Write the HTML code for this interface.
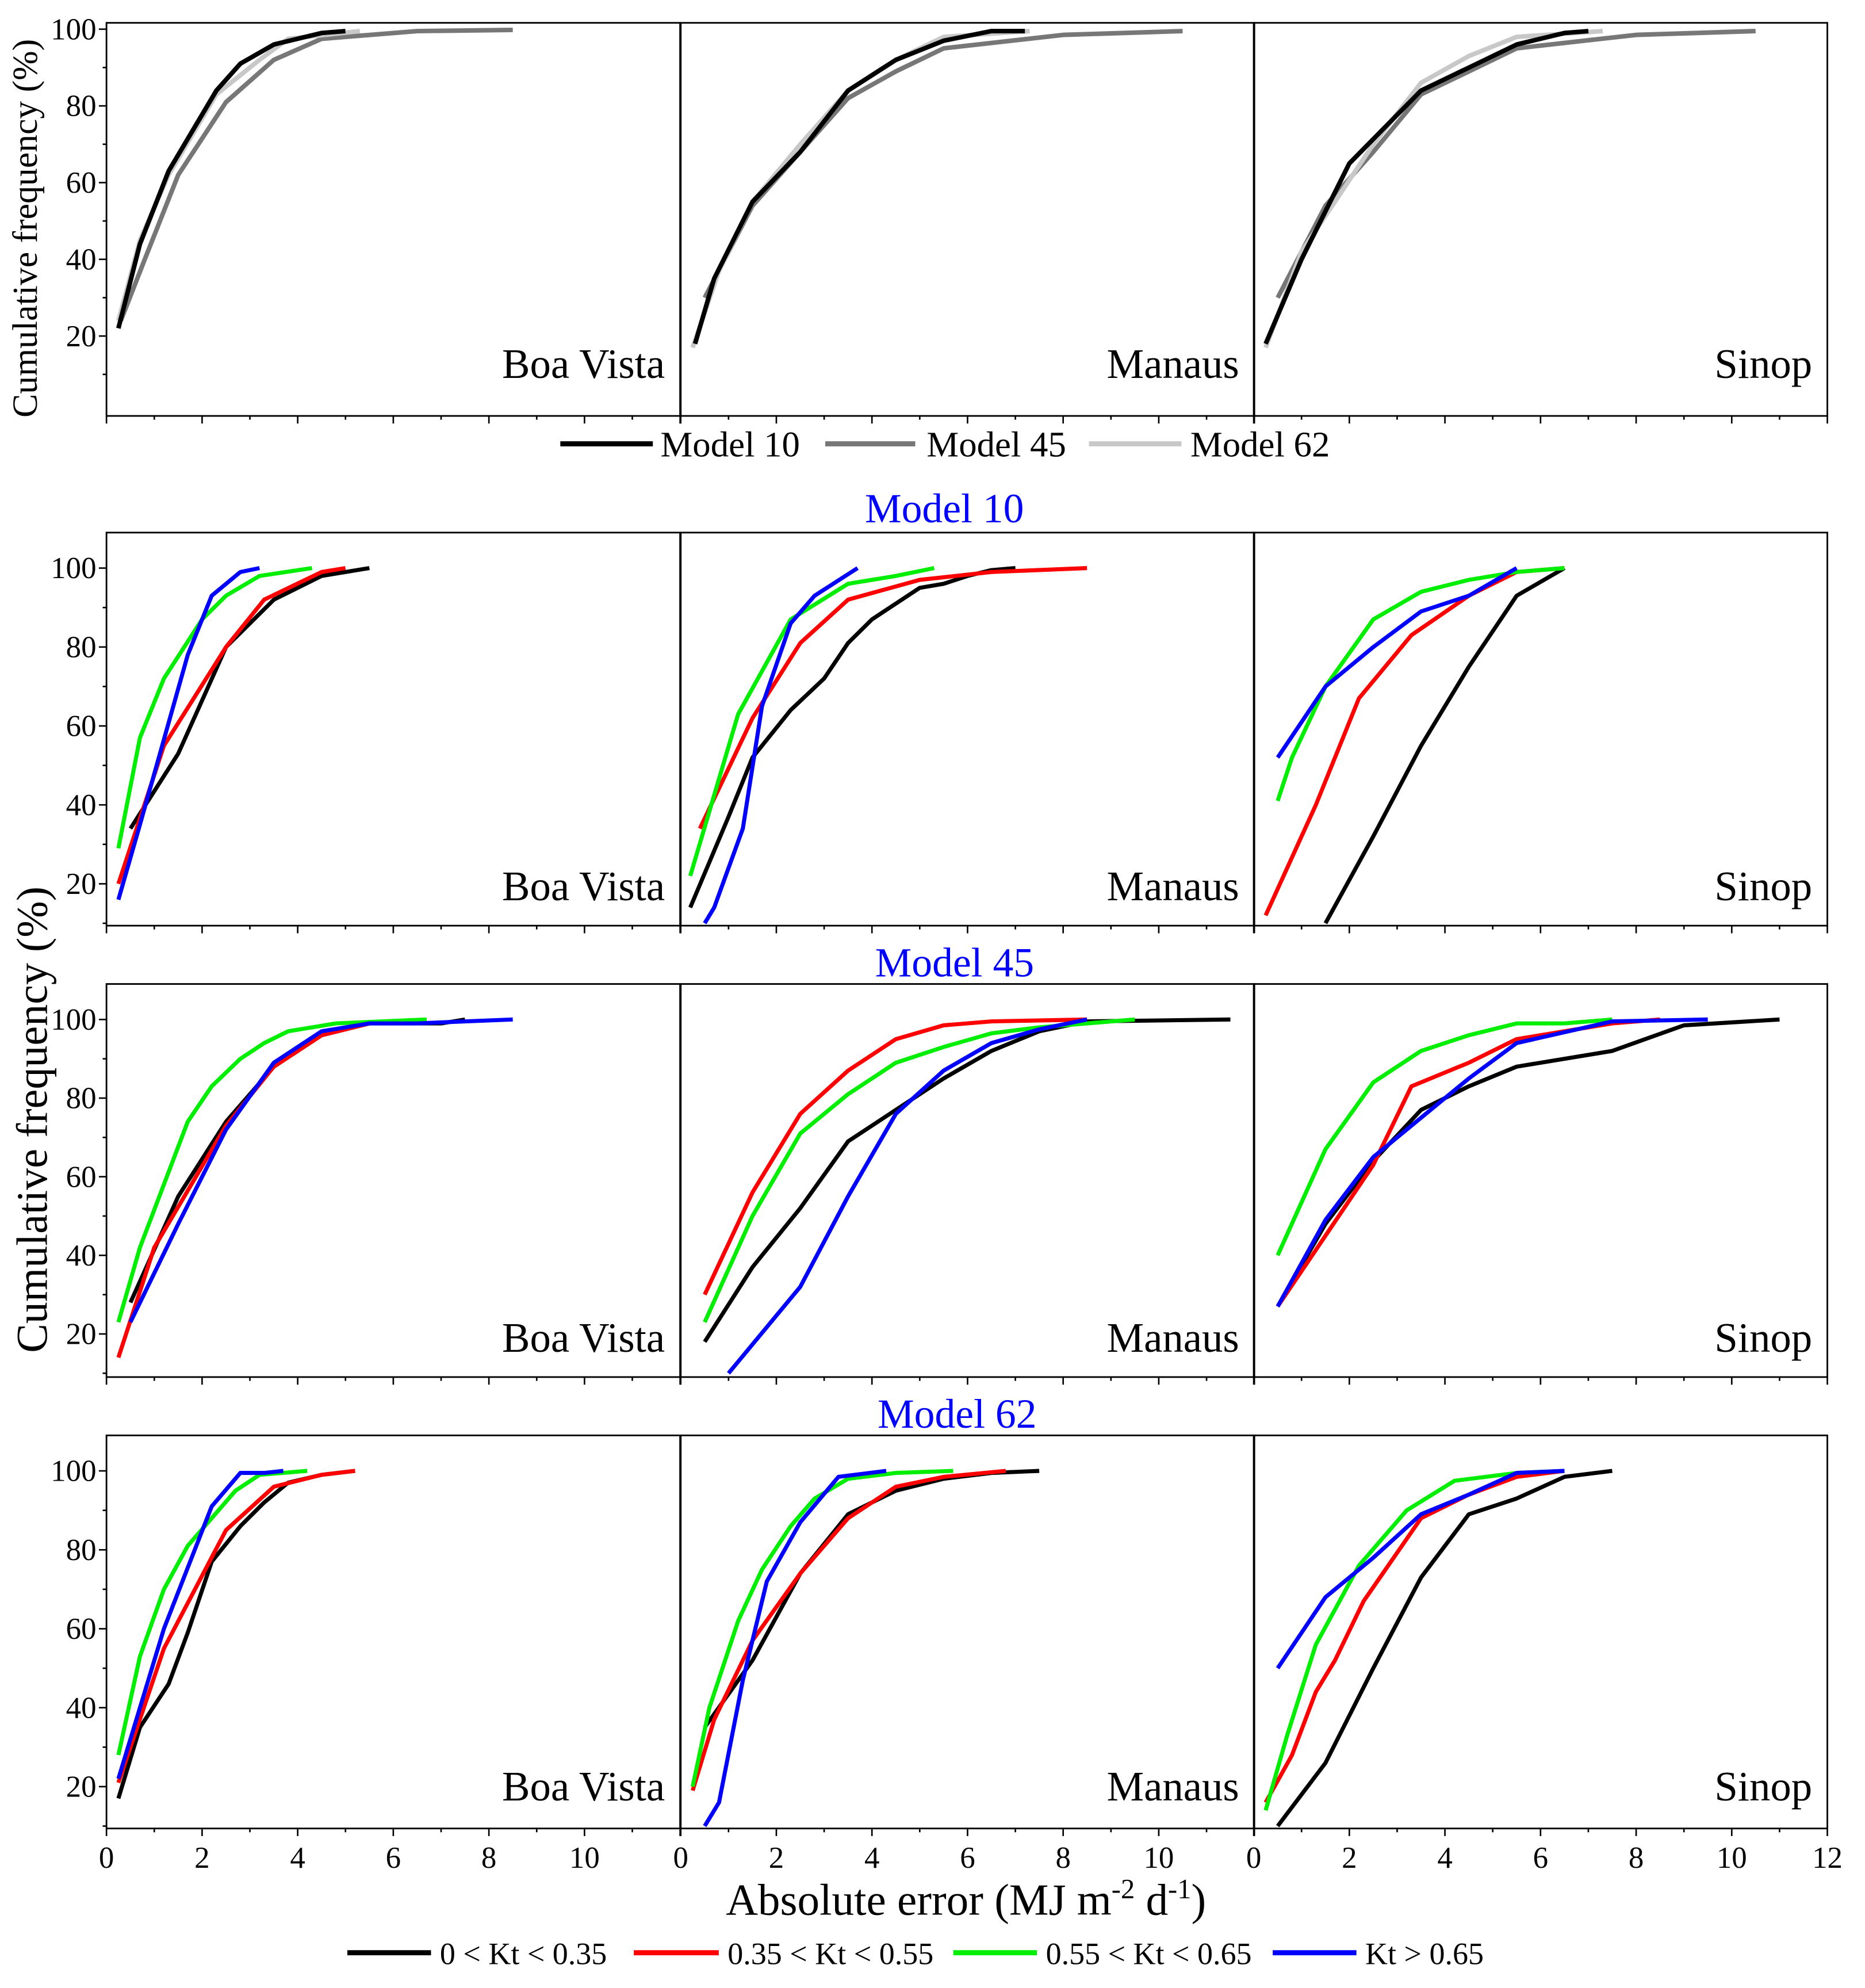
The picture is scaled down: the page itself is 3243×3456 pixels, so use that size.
<!DOCTYPE html>
<html><head><meta charset="utf-8"><style>html,body{margin:0;padding:0;background:#fff}svg{display:block}</style></head>
<body>
<svg id="chart" xmlns="http://www.w3.org/2000/svg" width="3243" height="3456" viewBox="0 0 1471.2 1567.8" font-family="'Liberation Serif', serif">
<rect width="1472" height="1568" fill="#fff"/>
<g id="g"></g>
<text transform="translate(29,180) rotate(-90)" text-anchor="middle" font-size="28">Cumulative frequency (%)</text>
<text transform="translate(37,883) rotate(-90)" text-anchor="middle" font-size="34.5">Cumulative frequency (%)</text>
<text x="762" y="1510" text-anchor="middle" font-size="35">Absolute error (MJ m<tspan dy="-13" font-size="22">-2</tspan><tspan dy="13"> d</tspan><tspan dy="-13" font-size="22">-1</tspan><tspan dy="13">)</tspan></text>
<text x="745" y="412" text-anchor="middle" font-size="32.5" fill="#0000ff">Model 10</text>
<text x="753" y="770" text-anchor="middle" font-size="32.5" fill="#0000ff">Model 45</text>
<text x="755" y="1126" text-anchor="middle" font-size="32.5" fill="#0000ff">Model 62</text>
<g font-size="28.5">
<line x1="442" y1="350" x2="515" y2="350" stroke="#000" stroke-width="4"/><text x="521" y="360">Model 10</text>
<line x1="651" y1="350" x2="722" y2="350" stroke="#777" stroke-width="4"/><text x="731" y="360">Model 45</text>
<line x1="859" y1="350" x2="932" y2="350" stroke="#c8c8c8" stroke-width="4"/><text x="939" y="360">Model 62</text>
</g>
<g font-size="24.5">
<line x1="274" y1="1540" x2="340" y2="1540" stroke="#000" stroke-width="4"/><text x="347" y="1549">0 &lt; Kt &lt; 0.35</text>
<line x1="500" y1="1540" x2="567" y2="1540" stroke="#ff0000" stroke-width="4"/><text x="574" y="1549">0.35 &lt; Kt &lt; 0.55</text>
<line x1="752" y1="1540" x2="818" y2="1540" stroke="#00ee00" stroke-width="4"/><text x="825" y="1549">0.55 &lt; Kt &lt; 0.65</text>
<line x1="1004" y1="1540" x2="1070" y2="1540" stroke="#0000ff" stroke-width="4"/><text x="1077" y="1549">Kt &gt; 0.65</text>
</g>
</svg>
<script>
const sites=["Boa Vista","Manaus","Sinop"];
const yTicks=[20,40,60,80,100];
const xTicks=[0,2,4,6,8,10,12];
const r1_m10=[[[0.25,22],[0.7,44],[1.3,63],[2.3,84],[2.8,91],[3.5,96],[4.5,99],[5,99.5]],[[0.3,18],[0.7,35],[1.5,55],[2.5,68],[3.5,84],[4.5,92],[5.5,97],[6.5,99.5],[7.2,99.5]],[[0.25,18],[1,40],[2,65],[3.5,84],[4.5,90],[5.5,96],[6.5,99],[7,99.5]]];
const r1_m45=[[[0.3,24],[0.8,40],[1.5,62],[2.5,81],[3.5,92],[4.5,97.5],[6.5,99.5],[8.5,99.8]],[[0.5,30],[1.5,54],[2.5,68],[3.5,82],[4.5,89],[5.5,95],[8,98.5],[10.5,99.5]],[[0.5,30],[1.5,54],[2.5,68],[3.5,83],[4.5,89],[5.5,95],[8,98.5],[10.5,99.5]]];
const r1_m62=[[[0.25,24],[0.7,45],[1.3,62],[2.3,83],[3.2,92],[3.8,97.5],[5.3,99.5]],[[0.25,17],[0.8,37],[1.5,55],[2.5,70],[3.5,84],[4.5,92],[5.5,98],[7.3,99.5]],[[0.25,17],[1,42],[2.5,70],[3.5,86],[4.5,93],[5.5,98],[7.3,99.5]]];
const m10=[
[[[0.5,34],[1.5,53],[2.5,80],[3.5,92],[4.5,98],[5.5,100]],[[0.25,20],[1.2,55],[2.5,80],[3.3,92],[4.5,99],[5.0,100]],[[0.25,29],[0.7,57],[1.2,72],[2.0,87],[2.5,93],[3.2,98],[4.3,100]],[[0.25,16],[0.7,35],[1.7,78],[2.2,93],[2.8,99],[3.2,100]]],
[[[0.2,14],[1,37],[1.5,52],[2.3,64],[3,72],[3.5,81],[4,87],[5,95],[5.5,96],[6,98],[6.5,99.5],[7,100]],[[0.4,34],[1.5,62],[2.5,81],[3.5,92],[5,97],[6.5,99],[8.5,100]],[[0.2,22],[1.2,63],[2.3,87],[3.5,96],[4.5,98],[5.3,100]],[[0.5,10],[0.7,14],[1.3,34],[1.7,65],[2.3,86],[2.8,93],[3.7,100]]],
[[[1.5,10],[2.5,32],[3.5,55],[4.5,75],[5.5,93],[6.5,100]],[[0.25,12],[0.7,24],[1.3,40],[2.2,67],[3.3,83],[4.5,93],[5.5,99],[6.5,100]],[[0.5,41],[0.8,52],[1.5,70],[2.5,87],[3.5,94],[4.5,97],[5.5,99],[6.5,100]],[[0.5,52],[1.5,70],[2.5,80],[3.5,89],[4.5,93],[5.5,100]]]];
const m45=[
[[[0.5,28],[1.5,55],[2.5,74],[3.5,88],[4.5,96],[5.5,99],[7,99],[7.5,100]],[[0.25,14],[1,42],[2.5,73],[3.5,88],[4.5,96],[5.5,99],[6.5,99.5]],[[0.25,23],[0.7,42],[1.7,74],[2.2,83],[2.8,90],[3.3,94],[3.8,97],[4.8,99],[6.7,100]],[[0.5,23],[1.5,48],[2.5,72],[3.5,89],[4.5,97],[5.5,99],[6.5,99],[7.5,99.5],[8.5,100]]],
[[[0.5,18],[1.5,37],[2.5,52],[3.5,69],[4.5,77],[5.5,85],[6.5,92],[7.5,97],[8.5,99.5],[11.5,100]],[[0.5,30],[1.5,56],[2.5,76],[3.5,87],[4.5,95],[5.5,98.5],[6.5,99.5],[8.5,100]],[[0.5,23],[1.5,50],[2.5,71],[3.5,81],[4.5,89],[5.5,93],[6.5,96.5],[7.5,98],[9.5,100]],[[1,10],[2.5,32],[3.5,55],[4.5,76],[5.5,87],[6.5,94],[7.5,97.5],[8.5,100]]],
[[[0.5,27],[1.5,48],[2.5,64],[3.5,77],[4.5,83],[5.5,88],[7.5,92],[9,98.5],[11,100]],[[0.5,27],[1.5,45],[2.5,63],[3.3,83],[4.5,89],[5.5,95],[7.5,99],[8.5,100]],[[0.5,40],[1.5,67],[2.5,84],[3.5,92],[4.5,96],[5.5,99],[6.5,99],[7.5,100]],[[0.5,27],[1.5,49],[2.5,65],[3.5,75],[4.5,85],[5.5,94],[7.5,99.5],[9.5,100]]]];
const m62=[
[[[0.25,17],[0.7,35],[1.3,46],[1.7,59],[2.2,77],[2.8,86],[3.3,92],[3.8,97],[4.5,99],[5.2,100]],[[0.25,21],[1.2,55],[2.5,85],[3.5,96],[4.5,99],[5.2,100]],[[0.25,28],[0.7,53],[1.2,70],[1.7,81],[2.2,88],[2.7,95],[3.2,99],[4.2,100]],[[0.25,22],[1.2,60],[2.2,91],[2.8,99.5],[3.3,99.5],[3.7,100]]],
[[[0.5,35],[1.5,52],[2.5,74],[3.5,89],[4.5,95],[5.5,98],[6.5,99.5],[7.5,100]],[[0.25,19],[0.7,37],[1.5,57],[2.5,74],[3.5,88],[4.5,96],[5.5,98.5],[6.8,100]],[[0.25,20],[0.6,40],[1.2,62],[1.7,75],[2.3,86],[2.8,93],[3.5,98],[4.5,99.5],[5.7,100]],[[0.5,10],[0.8,16],[1.3,47],[1.8,72],[2.5,87],[3.3,98.5],[4.3,100]]],
[[[0.5,10],[1.5,26],[2.5,50],[3.5,73],[4.5,89],[5.5,93],[6.5,98.5],[7.5,100]],[[0.25,16],[0.8,28],[1.3,44],[1.7,52],[2.3,67],[3.5,88],[4.5,94],[5.5,98.5],[6.5,100]],[[0.25,14],[0.7,33],[1.3,56],[2.2,76],[3.2,90],[4.2,97.5],[5.5,99.5],[6.5,100]],[[0.5,50],[1.5,68],[2.5,78],[3.5,89],[4.5,94],[5.5,99.5],[6.5,100]]]];

const NS="http://www.w3.org/2000/svg";
const g=document.getElementById('g');
const colX=[84,537,989],PW=452.5,XPU=PW/12;
const rows=[{top:18,bot:328,y20:265,y100:23,lab:298},{top:420,bot:730,y20:697,y100:448,lab:710},{top:776,bot:1086,y20:1052,y100:804,lab:1066},{top:1132,bot:1442,y20:1409,y100:1160,lab:1420}];
function el(t,a,p){const e=document.createElementNS(NS,t);for(const k in a)e.setAttribute(k,a[k]);(p||g).appendChild(e);return e;}
function xs(c,v){return colX[c]+v*XPU;}
function ys(r,v){const R=rows[r];return R.y20-(v-20)*(R.y20-R.y100)/80;}
const kt=["#000000","#ff0000","#00ee00","#0000ff"];
const kn=["kt-low","kt-mid","kt-high","kt-clear"];
const rowSets=[null,m10,m45,m62];
const rowNames=["models","model-10","model-45","model-62"];
for(let r=0;r<4;r++){
 const R=rows[r];
 for(let c=0;c<3;c++){
  const pg=el('g',{});
  
  
  const cp='cp'+r+c;
  const cl=el('clipPath',{id:cp},pg);el('rect',{x:colX[c],y:R.top,width:PW,height:R.bot-R.top},cl);
  const lines=el('g',{'clip-path':'url(#'+cp+')'},pg);
  const series=[];
  if(r===0){series.push([r1_m10[c],'#000','model-10-line'],[r1_m45[c],'#777','model-45-line'],[r1_m62[c],'#c8c8c8','model-62-line']);}
  else{for(let k=0;k<4;k++)series.push([rowSets[r][c][k],kt[k],kn[k]+'-line']);}
  const order=r===0?[1,2,0]:[0,1,2,3];
  for(const i of order){
   const [d,col,nm]=series[i];
   const p=el('polyline',{points:d.map(q=>xs(c,q[0]).toFixed(1)+','+ys(r,q[1]).toFixed(1)).join(' '),fill:'none',stroke:col,'stroke-width':r===0?3.6:3.2,'stroke-linejoin':'round'},lines);
   
   
  }
  el('rect',{x:colX[c],y:R.top,width:PW,height:R.bot-R.top,fill:'none',stroke:'#000','stroke-width':1.3},pg);
  for(let v=0;v<=12;v++){el('line',{x1:xs(c,v),x2:xs(c,v),y1:R.bot,y2:R.bot+(v%2?3:6),stroke:'#000','stroke-width':1.2},pg);}
  if(c===0){for(let v=10;v<=105;v+=10){const y=ys(r,v);if(y<R.top||y>R.bot)continue;el('line',{x1:colX[0],x2:colX[0]-(v%20?3:6),y1:y,y2:y,stroke:'#000','stroke-width':1.2},pg);}
   for(const v of yTicks){const t=el('text',{x:76,y:ys(r,v)+8,'text-anchor':'end','font-size':24},pg);t.textContent=v;
    
    }
  }
  const sl=el('text',{x:colX[c]+PW-12,y:R.lab,'text-anchor':'end','font-size':33},pg);sl.textContent=sites[c];
  
  
  if(r===3){for(const v of xTicks){if(v===12&&c<2)continue;const t=el('text',{x:xs(c,v),y:1473,'text-anchor':'middle','font-size':24},pg);t.textContent=v;
   
   }}
 }
}
</script>
</body></html>
